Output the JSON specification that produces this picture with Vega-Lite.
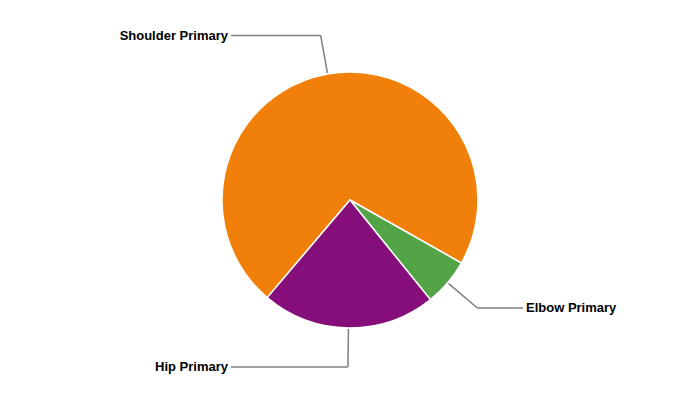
{
  "$schema": "https://vega.github.io/schema/vega-lite/v6.json",
  "width": 700,
  "height": 400,
  "padding": 0,
  "autosize": {"type": "fit", "contains": "padding"},
  "background": "white",
  "config": {"view": {"stroke": null}},
  "data": {
    "values": [
      {"label": "Shoulder Primary", "value": 72},
      {"label": "Elbow Primary", "value": 6},
      {"label": "Hip Primary", "value": 22}
    ]
  },
  "transform": [
    {"joinaggregate": [{"op": "sum", "field": "value", "as": "total"}]},
    {"window": [{"op": "sum", "field": "value", "as": "cum"}], "sort": [{"field": "label", "order": "ascending"}], "frame": [null, 0]},
    {"calculate": "2.0857 + 2*PI*(datum.cum - datum.value/2)/datum.total", "as": "mid"},
    {"calculate": "129*sin(datum.mid)", "as": "x0"},
    {"calculate": "-129*cos(datum.mid)", "as": "y0"},
    {"calculate": "167*sin(datum.mid)", "as": "x1"},
    {"calculate": "-167*cos(datum.mid)", "as": "y1"},
    {"calculate": "datum.x1 < 0 ? -119 : 173", "as": "x2"}
  ],
  "layer": [
    {
      "mark": {"type": "arc", "radius": 128, "stroke": "white", "strokeWidth": 1.5},
      "encoding": {
        "theta": {"field": "value", "type": "quantitative", "stack": true, "scale": {"range": [2.0857, 8.3689]}},
        "order": {"field": "label", "type": "ordinal", "sort": "ascending"},
        "color": {
          "field": "label",
          "type": "nominal",
          "legend": null,
          "scale": {
            "domain": ["Shoulder Primary", "Elbow Primary", "Hip Primary"],
            "range": ["#F0800A", "#52A446", "#860E7A"]
          }
        }
      }
    },
    {
      "mark": {"type": "rule", "stroke": "#7f7f7f", "strokeWidth": 1.5},
      "encoding": {
        "x": {"field": "x0", "type": "quantitative", "axis": null, "scale": {"domain": [-350, 350], "nice": false, "zero": false}},
        "y": {"field": "y0", "type": "quantitative", "axis": null, "scale": {"domain": [-200, 200], "nice": false, "zero": false, "reverse": true}},
        "x2": {"field": "x1"},
        "y2": {"field": "y1"}
      }
    },
    {
      "mark": {"type": "rule", "stroke": "#7f7f7f", "strokeWidth": 1.5},
      "encoding": {
        "x": {"field": "x1", "type": "quantitative"},
        "y": {"field": "y1", "type": "quantitative"},
        "x2": {"field": "x2"},
        "y2": {"field": "y1"}
      }
    },
    {
      "transform": [{"filter": "datum.x1 < 0"}],
      "mark": {"type": "text", "align": "right", "baseline": "middle", "dx": -3, "font": "Liberation Sans", "fontSize": 13, "fontWeight": "bold", "color": "#000000"},
      "encoding": {
        "x": {"field": "x2", "type": "quantitative"},
        "y": {"field": "y1", "type": "quantitative"},
        "text": {"field": "label"}
      }
    },
    {
      "transform": [{"filter": "datum.x1 >= 0"}],
      "mark": {"type": "text", "align": "left", "baseline": "middle", "dx": 3, "font": "Liberation Sans", "fontSize": 13, "fontWeight": "bold", "color": "#000000"},
      "encoding": {
        "x": {"field": "x2", "type": "quantitative"},
        "y": {"field": "y1", "type": "quantitative"},
        "text": {"field": "label"}
      }
    }
  ]
}
